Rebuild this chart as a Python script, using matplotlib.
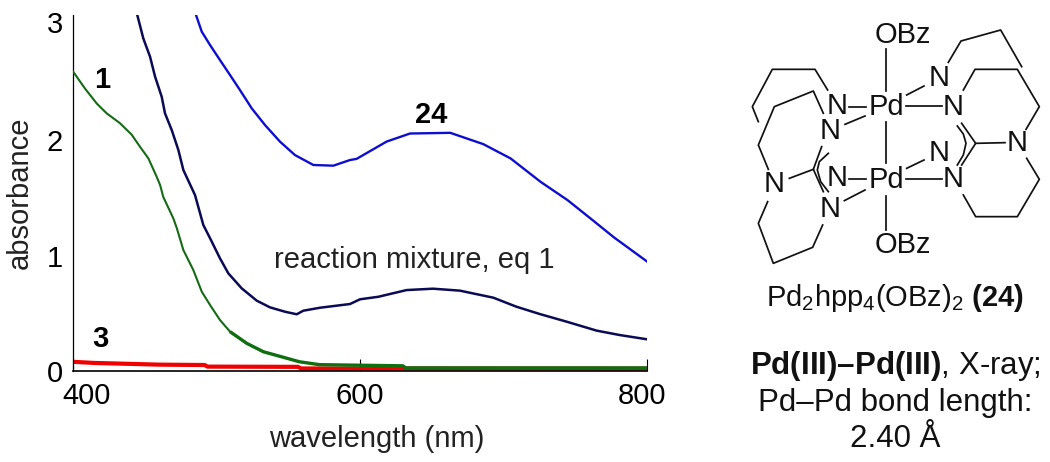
import matplotlib
matplotlib.use('Agg')
import matplotlib.pyplot as plt
from matplotlib.transforms import ScaledTranslation

plt.rcParams['font.family'] = ['Liberation Sans', 'DejaVu Sans']
plt.rcParams['mathtext.fontset'] = 'custom'
plt.rcParams['mathtext.rm'] = 'Liberation Sans'
plt.rcParams['mathtext.bf'] = 'Liberation Sans:bold'

# spectra
wl_green = [400.5, 408.7, 416.9, 423.8, 433, 441.2, 447, 452.8, 458.6, 461, 463.2, 470.2, 472.6, 477.2, 484.1, 490, 495.8, 502.7, 509.7]
abs_green = [2.596, 2.45, 2.32, 2.235, 2.15, 2.05, 1.945, 1.845, 1.685, 1.613, 1.51, 1.324, 1.24, 1.049, 0.876, 0.688, 0.572, 0.442, 0.341]
# the tail of the same curve is drawn heavier in the original
wl_green_tail = [509.7, 521.3, 532.9, 546.8, 558, 572, 600, 630, 632, 800]
abs_green_tail = [0.341, 0.24, 0.167, 0.119, 0.08, 0.055, 0.05, 0.045, 0.027, 0.027]
wl_navy = [445.1, 449.3, 454, 457.5, 462.1, 464.4, 469.1, 473.7, 477.2, 485.3, 491.1, 495.8, 502.7, 508.5, 517.8, 528.3, 537.5, 548, 556.1, 560.7, 572.4, 593.2, 600.2, 613, 632.6, 651, 669.7, 693, 709, 725.4, 744, 765, 781, 800]
abs_navy = [3.088, 2.885, 2.726, 2.553, 2.379, 2.235, 2.09, 1.917, 1.743, 1.526, 1.266, 1.151, 0.977, 0.847, 0.717, 0.61, 0.552, 0.514, 0.492, 0.523, 0.549, 0.581, 0.622, 0.644, 0.702, 0.714, 0.697, 0.636, 0.558, 0.494, 0.428, 0.35, 0.312, 0.275]
wl_blue = [486, 490, 495.8, 502.7, 509.7, 516.6, 524.8, 534, 544.5, 554.9, 567.7, 581.6, 593.2, 597.8, 618.7, 635, 663, 686, 705, 726, 744.6, 761, 777, 800]
abs_blue = [3.088, 2.943, 2.827, 2.697, 2.567, 2.437, 2.278, 2.134, 1.989, 1.873, 1.787, 1.781, 1.83, 1.84, 1.99, 2.06, 2.066, 1.968, 1.844, 1.64, 1.483, 1.32, 1.159, 0.95]
wl_red = [400, 415, 461, 492, 494, 557, 559, 800]
abs_red = [0.08, 0.07, 0.055, 0.052, 0.038, 0.036, 0.022, 0.02]

x_ticks = [400, 600, 800]
y_ticks = [0, 1, 2, 3]

# molecule bonds, in units of 1/3 pixel from the corner of the drawing
bonds = [
    [(468, 118), (468, 243)], [(530, 255), (582, 228)], [(527, 288), (635, 288)],
    [(358, 290), (408, 290)], [(345, 343), (405, 318)], [(468, 337), (468, 460)],
    [(530, 475), (582, 450)], [(527, 508), (635, 508)], [(358, 508), (408, 508)],
    [(343, 572), (405, 540)], [(468, 558), (468, 660)],
    [(655, 157), (693, 93), (812, 60), (875, 170)],
    [(700, 240), (735, 178), (862, 178), (928, 290), (888, 358)],
    [(890, 445), (928, 508), (862, 620), (737, 620), (700, 555)],
    [(737, 400), (825, 398)],
    [(695, 340), (737, 400), (695, 465)],
    [(682, 348), (700, 372), (708, 400), (700, 435), (682, 465)],
    [(293, 240), (255, 178), (127, 178), (67, 290), (85, 335)],
    [(280, 310), (250, 243), (133, 290), (85, 405), (115, 478)],
    [(178, 505), (250, 478)],
    [(275, 410), (250, 478), (280, 545)],
    [(295, 430), (268, 455), (262, 480), (272, 515), (295, 545)],
    [(278, 645), (248, 712), (130, 760), (85, 640), (113, 575)],
]
atoms = [
    ('OBz', 520, 75), ('Pd', 470, 290), ('N', 320, 288), ('N', 300, 364),
    ('N', 628, 205), ('N', 670, 290), ('Pd', 470, 510), ('N', 320, 505),
    ('N', 300, 597), ('N', 628, 428), ('N', 670, 508), ('N', 862, 398),
    ('N', 133, 523), ('OBz', 520, 705),
]


def mol_xy(x, y):
    return 730 + x / 3, 10 + y / 3


def main():
    fig = plt.figure(figsize=(10.5, 4.62), dpi=100)
    ax = fig.add_axes([72.5 / 1050, 1 - 371 / 462, 574.5 / 1050, 356 / 462])
    ax.plot(wl_red, abs_red, color='#f00000', lw=3, zorder=2, solid_capstyle='butt')
    ax.plot(wl_green, abs_green, color='#156a15', lw=1.5, zorder=3)
    ax.plot(wl_green_tail, abs_green_tail, color='#0f6e0f', lw=2.4, zorder=3, solid_capstyle='butt')
    ax.plot(wl_navy, abs_navy, color='#0a0a55', lw=1.8, zorder=3)
    ax.plot(wl_blue, abs_blue, color='#0e0ed0', lw=1.7, zorder=3)

    ax.set_xlim(400, 800)
    ax.set_ylim(0, 3.088)
    ax.set_xticks(x_ticks)
    ax.set_yticks(y_ticks)
    ax.spines['top'].set_visible(False)
    ax.spines['right'].set_visible(False)
    ax.spines['left'].set_linewidth(0.9)
    ax.spines['bottom'].set_linewidth(1.2)
    ax.tick_params(axis='x', direction='in', length=9, width=0.8, labelsize=21, pad=8)
    ax.tick_params(axis='y', length=0, labelsize=21, pad=7)
    ax.set_xlabel('wavelength (nm)', fontsize=21, labelpad=11, color='#222222', x=0.53)
    ax.set_ylabel('absorbance', fontsize=21, labelpad=9, color='#222222')

    # 400 and 800 labels are not centred under their ticks in the original
    labels = ax.get_xticklabels()
    labels[0].set_transform(labels[0].get_transform() + ScaledTranslation(14 / 100, 0, fig.dpi_scale_trans))
    labels[2].set_transform(labels[2].get_transform() + ScaledTranslation(-5 / 100, 0, fig.dpi_scale_trans))
    labels = ax.get_yticklabels()
    labels[3].set_transform(labels[3].get_transform() + ScaledTranslation(0, 3 / 100, fig.dpi_scale_trans))

    # overlay in pixels for the labels and the molecule
    over = fig.add_axes([0, 0, 1, 1])
    over.set_xlim(0, 1050)
    over.set_ylim(462, 0)
    over.axis('off')
    over.patch.set_alpha(0)

    over.text(102, 80, '1', fontsize=21, fontweight='bold', ha='center', va='center')
    over.text(100, 339, '3', fontsize=21, fontweight='bold', ha='center', va='center')
    over.text(431, 115, '24', fontsize=21, fontweight='bold', ha='center', va='center')
    over.text(414, 260, 'reaction mixture, eq 1', fontsize=21, ha='center', va='center', color='#222222')

    for b in bonds:
        pts = [mol_xy(x, y) for x, y in b]
        over.plot([p[0] for p in pts], [p[1] for p in pts], color='#111111', lw=1.25)
    for name, x, y in atoms:
        px, py = mol_xy(x, y)
        over.text(px, py, name, fontsize=21, ha='center', va='center', color='#111111')

    over.text(895, 298, r'Pd$_2$hpp$_4$(OBz)$_2$ $\mathbf{(24)}$', fontsize=21, ha='center', va='center', color='#111111')
    over.text(895, 366, r'$\mathbf{Pd(III)–Pd(III)}$, X-ray;', fontsize=22.5, ha='center', va='center', color='#111111')
    over.text(895, 403, 'Pd–Pd bond length:', fontsize=22.5, ha='center', va='center', color='#111111')
    over.text(895, 439, '2.40 Å', fontsize=22.5, ha='center', va='center', color='#111111')

    fig.savefig('out.png', dpi=100)


if __name__ == "__main__":
    main()
